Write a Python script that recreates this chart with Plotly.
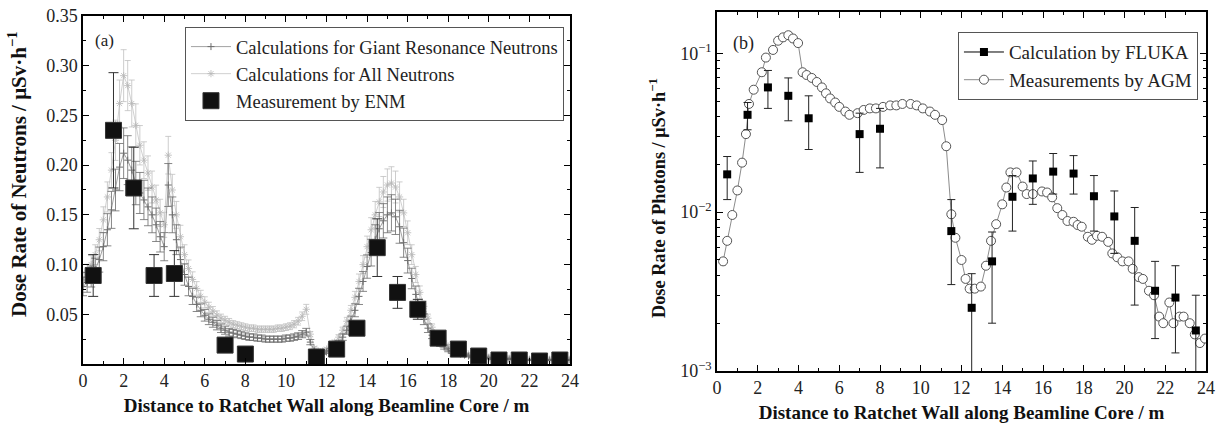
import plotly.graph_objects as go

# ---------------- Panel (a): neutrons ----------------
calc_x = [round(i * 0.2, 1) for i in range(121)]
giant_res = [
    0.078, 0.082, 0.088, 0.095, 0.105, 0.118, 0.135, 0.155, 0.175, 0.198,
    0.212, 0.205, 0.195, 0.182, 0.172, 0.165, 0.158, 0.150, 0.140, 0.128,
    0.118, 0.180, 0.150, 0.125, 0.105, 0.090, 0.078, 0.068, 0.060, 0.054,
    0.049, 0.045, 0.042, 0.039, 0.036, 0.034, 0.032, 0.031, 0.030, 0.029,
    0.028, 0.027, 0.027, 0.026, 0.026, 0.025, 0.025, 0.025, 0.025, 0.025,
    0.026, 0.026, 0.027, 0.028, 0.030, 0.032, 0.022, 0.013, 0.011, 0.011,
    0.012, 0.014, 0.017, 0.021, 0.027, 0.034, 0.043, 0.054, 0.068, 0.083,
    0.098, 0.112, 0.125, 0.136, 0.144, 0.150, 0.152, 0.148, 0.138, 0.122,
    0.104, 0.086, 0.070, 0.056, 0.045, 0.036, 0.029, 0.024, 0.020, 0.017,
    0.014, 0.012, 0.011, 0.010, 0.009, 0.008, 0.007, 0.007, 0.006, 0.006,
    0.006, 0.005, 0.005, 0.005, 0.005, 0.005, 0.005, 0.005, 0.005, 0.004,
    0.004, 0.004, 0.004, 0.004, 0.004, 0.004, 0.004, 0.004, 0.004, 0.004,
    0.004,
]
all_neutrons = [
    0.085, 0.092, 0.100, 0.110, 0.125, 0.145, 0.168, 0.195, 0.225, 0.262,
    0.290, 0.280, 0.262, 0.240, 0.220, 0.205, 0.192, 0.178, 0.165, 0.152,
    0.140, 0.210, 0.175, 0.150, 0.128, 0.110, 0.096, 0.085, 0.076, 0.068,
    0.062, 0.057, 0.053, 0.049, 0.046, 0.044, 0.042, 0.040, 0.039, 0.038,
    0.037, 0.036, 0.036, 0.035, 0.035, 0.035, 0.035, 0.035, 0.036, 0.036,
    0.037, 0.038, 0.040, 0.043, 0.048, 0.055, 0.030, 0.016, 0.013, 0.013,
    0.015, 0.018, 0.022, 0.027, 0.034, 0.043, 0.054, 0.067, 0.083, 0.100,
    0.118, 0.135, 0.150, 0.163, 0.173, 0.180, 0.182, 0.178, 0.168, 0.152,
    0.132, 0.110, 0.090, 0.072, 0.058, 0.046, 0.037, 0.030, 0.025, 0.021,
    0.018, 0.015, 0.013, 0.012, 0.011, 0.010, 0.009, 0.008, 0.008, 0.007,
    0.007, 0.007, 0.006, 0.006, 0.006, 0.006, 0.006, 0.006, 0.006, 0.005,
    0.005, 0.005, 0.005, 0.005, 0.005, 0.005, 0.005, 0.005, 0.005, 0.005,
    0.005,
]
enm_x = [0.5, 1.5, 2.5, 3.5, 4.5, 7.0, 8.0, 11.5, 12.5, 13.5, 14.5, 15.5,
         16.5, 17.5, 18.5, 19.5, 20.5, 21.5, 22.5, 23.5]
enm_y = [0.089, 0.235, 0.177, 0.089, 0.091, 0.019, 0.010, 0.007, 0.015, 0.036,
         0.117, 0.072, 0.055, 0.026, 0.015, 0.008, 0.004, 0.004, 0.003, 0.004]
enm_err = [0.021, 0.058, 0.041, 0.021, 0.023, 0.003, 0.002, 0.002, 0.003, 0.005,
           0.029, 0.016, 0.010, 0.004, 0.003, 0.002, 0.001, 0.001, 0.001, 0.001]

# ---------------- Panel (b): photons ----------------
agm_x = [0.3, 0.5, 0.75, 1.0, 1.23, 1.42, 1.57, 1.8, 2.2, 2.4, 2.75, 3.0, 3.24,
         3.5, 3.73, 3.98, 4.2, 4.4, 4.65, 4.9, 5.15, 5.35, 5.55, 5.8, 6.0, 6.3,
         6.5, 6.9, 7.2, 7.5, 7.8, 8.15, 8.5, 8.8, 9.1, 9.5, 9.8, 10.1, 10.45,
         10.7, 11.05, 11.25, 11.5, 11.7, 12.0, 12.2, 12.4, 12.65, 12.95, 13.2,
         13.45, 13.7, 14.0, 14.2, 14.4, 14.7, 15.0, 15.2, 15.5, 15.95, 16.2,
         16.45, 16.7, 16.95, 17.2, 17.5, 17.7, 17.9, 18.2, 18.4, 18.65, 18.9,
         19.2, 19.4, 19.65, 19.9, 20.2, 20.4, 20.7, 20.9, 21.2, 21.45, 21.7,
         21.9, 22.2, 22.4, 22.7, 22.9, 23.2, 23.45, 23.7, 23.95]
agm_y = [0.0049, 0.0066, 0.0096, 0.0137, 0.0205, 0.031, 0.048, 0.059, 0.076,
         0.094, 0.105, 0.120, 0.126, 0.130, 0.124, 0.116, 0.076, 0.073, 0.070,
         0.066, 0.061, 0.056, 0.052, 0.049, 0.046, 0.043, 0.041, 0.042, 0.044,
         0.045, 0.045, 0.046, 0.047, 0.047, 0.048, 0.048, 0.047, 0.045, 0.043,
         0.041, 0.038, 0.026, 0.0097, 0.0069, 0.0050, 0.0038, 0.0033, 0.0033,
         0.0034, 0.0046, 0.0066, 0.0084, 0.0112, 0.0143, 0.0178, 0.0178,
         0.0145, 0.0130, 0.0130, 0.0135, 0.0133, 0.0124, 0.0106, 0.0096,
         0.0088, 0.0087, 0.0083, 0.0081, 0.0070, 0.0067, 0.0071, 0.0070,
         0.0065, 0.0055, 0.0052, 0.0049, 0.0049, 0.0044, 0.0039, 0.0038,
         0.0032, 0.0030, 0.0022, 0.0020, 0.0027, 0.0020, 0.0022, 0.0022,
         0.0020, 0.0017, 0.0015, 0.0016]
fluka_x = [0.5, 1.5, 2.5, 3.5, 4.5, 7.0, 8.0, 11.5, 12.5, 13.5, 14.5, 15.5,
           16.5, 17.5, 18.5, 19.5, 20.5, 21.5, 22.5, 23.5]
fluka_y = [0.0173, 0.041, 0.061, 0.054, 0.039, 0.031, 0.0335, 0.0076, 0.0025,
           0.0049, 0.0125, 0.0163, 0.018, 0.0175, 0.0126, 0.0094, 0.0066,
           0.0032, 0.0029, 0.0018]
fluka_hi = [0.0224, 0.049, 0.078, 0.070, 0.054, 0.042, 0.045, 0.012, 0.0041,
            0.0075, 0.017, 0.021, 0.0234, 0.0227, 0.017, 0.0136, 0.0107,
            0.0049, 0.0046, 0.0030]
fluka_lo = [0.012, 0.033, 0.045, 0.0376, 0.0248, 0.0178, 0.019, 0.0035, 0.0009,
            0.0020, 0.0076, 0.0112, 0.013, 0.013, 0.0076, 0.0055, 0.0026,
            0.0016, 0.0013, 0.0009]

FONT = "Liberation Serif, Times New Roman, Times, serif"

fig = go.Figure()

# Panel (a)
fig.add_trace(go.Scatter(
    x=calc_x, y=all_neutrons, name="Calculations for All Neutrons",
    mode="lines+markers", xaxis="x", yaxis="y", legend="legend",
    line=dict(color="#c4c4c4", width=0.8),
    marker=dict(symbol="asterisk-open", size=6, color="#b8b8b8", line=dict(width=0.8, color="#b8b8b8")),
    error_y=dict(type="percent", value=9, color="#c0c0c0", thickness=0.8, width=3),
    legendrank=2,
))
fig.add_trace(go.Scatter(
    x=calc_x, y=giant_res, name="Calculations for Giant Resonance Neutrons",
    mode="lines+markers", xaxis="x", yaxis="y", legend="legend",
    line=dict(color="#8a8a8a", width=0.8),
    marker=dict(symbol="cross-thin-open", size=5, color="#6e6e6e", line=dict(width=1, color="#6e6e6e")),
    error_y=dict(type="percent", value=12, color="#6a6a6a", thickness=0.8, width=4),
    legendrank=1,
))
fig.add_trace(go.Scatter(
    x=enm_x, y=enm_y, name="Measurement by ENM", mode="markers",
    xaxis="x", yaxis="y", legend="legend",
    marker=dict(symbol="square", size=16, color="#111111", line=dict(width=1, color="#333")),
    error_y=dict(type="data", array=enm_err, color="#333333", thickness=1, width=5),
    legendrank=3,
))

# Panel (b)
fig.add_trace(go.Scatter(
    x=agm_x, y=agm_y, name="Measurements by AGM", mode="lines+markers",
    xaxis="x2", yaxis="y2", legend="legend2",
    line=dict(color="#8c8c8c", width=1),
    marker=dict(symbol="circle", size=9, color="white", line=dict(width=1, color="#555")),
    error_y=dict(type="percent", value=5, color="#666", thickness=0.8, width=3),
    legendrank=2,
))
fig.add_trace(go.Scatter(
    x=fluka_x, y=fluka_y, name="Calculation by FLUKA", mode="markers",
    xaxis="x2", yaxis="y2", showlegend=False,
    marker=dict(symbol="square", size=8, color="black"),
    error_y=dict(type="data", symmetric=False,
                 array=[h - v for h, v in zip(fluka_hi, fluka_y)],
                 arrayminus=[v - l for l, v in zip(fluka_lo, fluka_y)],
                 color="#222", thickness=1, width=4),
))
fig.add_trace(go.Scatter(
    x=[None], y=[None], name="Calculation by FLUKA", mode="lines+markers",
    xaxis="x2", yaxis="y2", legend="legend2",
    line=dict(color="black", width=1),
    marker=dict(symbol="square", size=8, color="black"),
    legendrank=1,
))

axis_common = dict(
    showline=True, linecolor="black", linewidth=1.5, mirror="ticks",
    ticks="inside", ticklen=6, tickwidth=1.2, tickcolor="black",
    showgrid=False, zeroline=False, automargin=False,
    tickfont=dict(family=FONT, size=18, color="#222"),
)
xtitle_font = dict(family=FONT, size=19, color="#111", weight="bold")

fig.update_layout(
    width=1225, height=423,
    margin=dict(l=0, r=0, t=0, b=0),
    paper_bgcolor="white", plot_bgcolor="white",
    font=dict(family=FONT, color="#222"),
    xaxis=dict(domain=[0.0678, 0.4653], anchor="y", range=[0, 24],
               tickvals=list(range(0, 25, 2)),
               minor=dict(ticks="inside", ticklen=3, tickcolor="black", tickvals=list(range(1, 24, 2))),
               title=dict(text="Distance to Ratchet Wall along Beamline Core / m",
                          font=xtitle_font, standoff=8),
               **axis_common),
    yaxis=dict(domain=[0.1395, 0.9622], anchor="x", range=[0, 0.35],
               tickvals=[0.05, 0.10, 0.15, 0.20, 0.25, 0.30, 0.35],
               ticktext=["0.05", "0.10", "0.15", "0.20", "0.25", "0.30", "0.35"],
               minor=dict(ticks="inside", ticklen=3, tickcolor="black",
                          tickvals=[0.025, 0.075, 0.125, 0.175, 0.225, 0.275, 0.325]),
               **axis_common),
    xaxis2=dict(domain=[0.5853, 0.9845], anchor="y2", range=[0, 24],
                tickvals=list(range(0, 25, 2)),
                minor=dict(ticks="inside", ticklen=3, tickcolor="black", tickvals=list(range(1, 24, 2))),
                title=dict(text="Distance to Ratchet Wall along Beamline Core / m",
                           font=xtitle_font, standoff=8),
                **axis_common),
    yaxis2=dict(domain=[0.1229, 0.9716], anchor="x2", type="log", range=[-3, -0.74],
                tickvals=[0.001, 0.01, 0.1],
                ticktext=["10<sup>−3</sup>", "10<sup>−2</sup>", "10<sup>−1</sup>"],
                minor=dict(ticks="inside", ticklen=3, tickcolor="black",
                           tickvals=[m * 10 ** e for e in (-3, -2, -1) for m in range(2, 10)
                                     if m * 10 ** e <= 0.18]),
                **axis_common),
    legend=dict(x=0.151, y=0.936, xanchor="left", yanchor="top",
                bgcolor="white", bordercolor="#555", borderwidth=1,
                font=dict(family=FONT, size=18.5, color="#222"),
                tracegroupgap=0, itemwidth=40),
    legend2=dict(x=0.782, y=0.924, xanchor="left", yanchor="top",
                 bgcolor="white", bordercolor="#555", borderwidth=1,
                 font=dict(family=FONT, size=19, color="#222"),
                 tracegroupgap=0, itemwidth=40),
    annotations=[
        dict(text="(a)", x=0.076, y=0.905, xref="paper", yref="paper",
             xanchor="left", yanchor="middle", showarrow=False,
             font=dict(family=FONT, size=17, color="#222")),
        dict(text="(b)", x=0.597, y=0.898, xref="paper", yref="paper",
             xanchor="left", yanchor="middle", showarrow=False,
             font=dict(family=FONT, size=18, color="#222")),
        dict(text="Dose Rate of Neutrons / μSv·h<sup>−1</sup>",
             x=18 / 1225, y=1 - 174 / 423, xref="paper", yref="paper",
             xanchor="center", yanchor="middle", textangle=-90, showarrow=False,
             font=dict(family=FONT, size=21, color="#111", weight="bold")),
        dict(text="Dose Rate of Photons / μSv·h<sup>−1</sup>",
             x=657 / 1225, y=1 - 198 / 423, xref="paper", yref="paper",
             xanchor="center", yanchor="middle", textangle=-90, showarrow=False,
             font=dict(family=FONT, size=18.3, color="#111", weight="bold")),
    ],
)

fig.write_html("out.html")
